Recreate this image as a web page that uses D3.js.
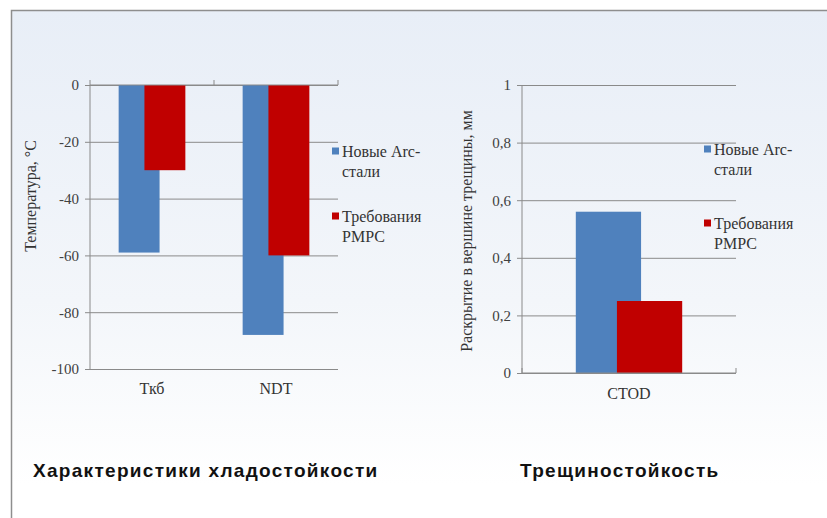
<!DOCTYPE html>
<html>
<head>
<meta charset="utf-8">
<script src="https://cdn.jsdelivr.net/npm/d3@7"></script>
<style>
  html, body { margin: 0; padding: 0; background: #fff; }
  svg { display: block; }
  .serif { font-family: 'Liberation Serif', 'Times New Roman', serif; }
  .cap { font-family: 'Liberation Sans', Arial, sans-serif; font-weight: bold; }
</style>
</head>
<body>
<div id="chart"></div>
<script>
// data
const seriesNames = ['Новые Arc-стали', 'Требования РМРС'];
const seriesColors = ['#4f81bd', '#c00000'];

const coldCategories = ['Ткб', 'NDT'];
const coldNew = [-59, -88];
const coldReq = [-30, -60];
const coldTicks = [0, -20, -40, -60, -80, -100];
const coldTickLabels = ['0', '-20', '-40', '-60', '-80', '-100'];

const crackCategories = ['CTOD'];
const crackNew = [0.56];
const crackReq = [0.25];
const crackTicks = [0, 0.2, 0.4, 0.6, 0.8, 1];
const crackTickLabels = ['0', '0,2', '0,4', '0,6', '0,8', '1'];

const W = 827, H = 518;

const svg = d3.select('#chart').append('svg').attr('width', W).attr('height', H);

// фон слайда
const defs = svg.append('defs');
const bg = defs.append('linearGradient').attr('id', 'bg')
  .attr('x1', 0).attr('x2', 0).attr('y1', 0).attr('y2', 1);
bg.append('stop').attr('offset', '0%').attr('stop-color', '#e8eef7');
bg.append('stop').attr('offset', '55%').attr('stop-color', '#f3f6fa');
bg.append('stop').attr('offset', '90%').attr('stop-color', '#ffffff');

svg.append('rect').attr('width', W).attr('height', H).attr('fill', '#fff');
svg.append('rect')
  .attr('x', 11.5).attr('y', 10.5).attr('width', W + 10).attr('height', H + 10)
  .attr('fill', 'url(#bg)')
  .attr('stroke', '#8e8e8e').attr('stroke-width', 1.5);

function drawChart(opt) {
  const g = svg.append('g');
  const y = d3.scaleLinear().domain(opt.yDomain).range([opt.bottom, opt.top]);
  const x = d3.scaleBand().domain(opt.categories).range([opt.left, opt.right]);
  const bw = x.bandwidth() * opt.barFrac;
  const off = bw * opt.offFrac;
  const sub = d3.scaleLinear().domain([0, 1]).range([-off / 2, off / 2]);

  // сетка
  g.append('g')
    .attr('transform', `translate(${opt.left},0)`)
    .call(d3.axisLeft(y).tickValues(opt.ticks).tickSize(-(opt.right - opt.left)).tickFormat(''))
    .call(s => s.select('.domain').remove())
    .call(s => s.selectAll('line').attr('stroke', '#8a8a8a'));

  // ось Y
  g.append('g')
    .attr('transform', `translate(${opt.left},0)`)
    .call(d3.axisLeft(y).tickValues(opt.ticks).tickSize(5).tickPadding(6)
      .tickFormat((d, i) => opt.tickLabels[i]))
    .attr('font-family', null).attr('font-size', null)
    .call(s => s.select('.domain').attr('stroke', '#8a8a8a').attr('d', `M0,${opt.top}V${opt.bottom}`))
    .call(s => s.selectAll('line').attr('stroke', '#8a8a8a'))
    .call(s => s.selectAll('text').attr('class', 'serif').attr('fill', '#404040').style('font-size', '15px'));

  // столбцы
  opt.series.forEach((vals, si) => {
    g.selectAll(null)
      .data(vals)
      .join('rect')
      .attr('x', (d, i) => x(opt.categories[i]) + x.bandwidth() / 2 + sub(si) - bw / 2)
      .attr('y', d => Math.min(y(d), y(0)))
      .attr('width', bw)
      .attr('height', d => Math.abs(y(d) - y(0)))
      .attr('fill', seriesColors[si]);
  });

  // ось категорий по нулю
  const xa = g.append('g')
    .attr('transform', `translate(0,${y(0)})`)
    .call(d3.axisTop(x).tickSize(0).tickFormat(''));
  xa.select('.domain').attr('stroke', '#8a8a8a').attr('d', `M${opt.left},0H${opt.right}`);
  const bounds = [opt.left].concat(opt.categories.map(c => x(c) + x.bandwidth()));
  xa.selectAll('line.b').data(bounds).join('line').attr('class', 'b')
    .attr('x1', d => d).attr('x2', d => d).attr('y1', 0).attr('y2', -5)
    .attr('stroke', '#8a8a8a');

  // подписи категорий
  g.selectAll(null)
    .data(opt.categories)
    .join('text')
    .attr('class', 'serif')
    .attr('x', d => x(d) + x.bandwidth() / 2)
    .attr('y', opt.catY)
    .attr('text-anchor', 'middle')
    .attr('dy', '0.35em')
    .attr('fill', '#333')
    .style('font-size', '16px')
    .text(d => d);

  // заголовок оси
  g.append('text')
    .attr('class', 'serif')
    .attr('transform', `translate(${opt.titleX},${opt.titleY}) rotate(-90)`)
    .attr('text-anchor', 'middle')
    .attr('dy', '0.35em')
    .attr('fill', '#333')
    .style('font-size', '16px')
    .text(opt.yTitle);

  // легенда
  const leg = g.append('g').attr('transform', `translate(${opt.legX},0)`);
  opt.legY.forEach((ly, si) => {
    const lines = opt.legLines[si];
    leg.append('rect').attr('x', 0).attr('y', ly - 3.5).attr('width', 7).attr('height', 7)
      .attr('fill', seriesColors[si]);
    lines.forEach((t, li) => {
      leg.append('text')
        .attr('class', 'serif')
        .attr('x', 10).attr('y', ly + li * 20).attr('dy', '0.35em')
        .attr('fill', '#333')
        .style('font-size', '16px')
        .text(t);
    });
  });

  // заголовок диаграммы
  svg.append('text')
    .attr('class', 'cap')
    .attr('x', opt.capX).attr('y', 470).attr('dy', '0.35em')
    .attr('fill', '#111')
    .style('font-size', '19px').style('letter-spacing', '1.3px')
    .text(opt.caption);
}

const legendLines = [['Новые Arc-', 'стали'], ['Требования', 'РМРС']];

drawChart({
  categories: coldCategories, series: [coldNew, coldReq],
  yDomain: [-100, 0], ticks: coldTicks, tickLabels: coldTickLabels,
  left: 90, right: 338, top: 85, bottom: 369,
  barFrac: 0.33, offFrac: 0.63, catY: 388,
  yTitle: 'Температура, °С', titleX: 30, titleY: 196,
  legX: 332, legY: [151, 216], legLines: legendLines,
  caption: 'Характеристики хладостойкости', capX: 33
});

drawChart({
  categories: crackCategories, series: [crackNew, crackReq],
  yDomain: [0, 1], ticks: crackTicks, tickLabels: crackTickLabels,
  left: 522, right: 736, top: 85, bottom: 373,
  barFrac: 0.305, offFrac: 0.63, catY: 393,
  yTitle: 'Раскрытие в вершине трещины, мм', titleX: 466, titleY: 231,
  legX: 704, legY: [149, 223], legLines: legendLines,
  caption: 'Трещиностойкость', capX: 520
});
</script>
</body>
</html>
